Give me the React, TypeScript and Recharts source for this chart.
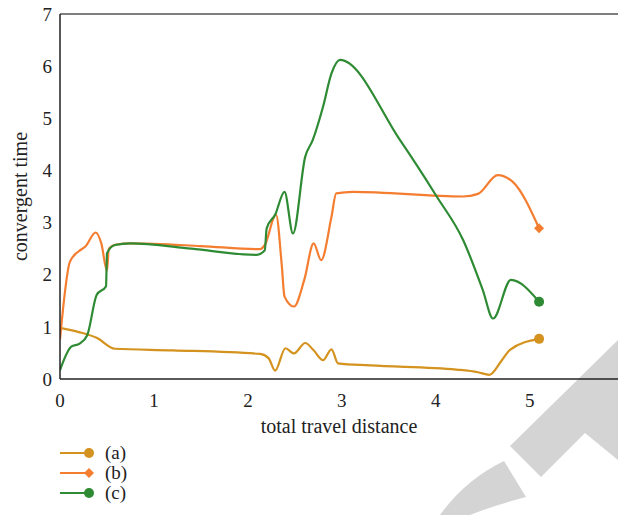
import React from "react";
import {
  LineChart,
  Line,
  XAxis,
  YAxis,
  ReferenceLine,
} from "recharts";

const seriesNames = ["(a)", "(b)", "(c)"];
const colors = ["#D4921E", "#F47D30", "#2E8B34"];

const xA = [0, 0.2, 0.39, 0.585, 1.2, 2.13, 2.22, 2.29, 2.4, 2.49, 2.61, 2.7, 2.8, 2.89, 2.96, 3.3, 4.22, 4.45, 4.57, 4.7, 4.79, 5.1];
const yA = [0.98, 0.9, 0.79, 0.58, 0.55, 0.48, 0.4, 0.16, 0.59, 0.49, 0.69, 0.55, 0.36, 0.57, 0.3, 0.26, 0.18, 0.13, 0.08, 0.35, 0.56, 0.77];

const xB = [0, 0.106, 0.2, 0.27, 0.38, 0.44, 0.5, 0.52, 0.6, 0.75, 1.5, 2.13, 2.18, 2.3, 2.36, 2.39, 2.49, 2.6, 2.7, 2.78, 2.89, 2.94, 3.12, 4.29, 4.45, 4.66, 4.82, 5.1];
const yB = [0.76, 2.25, 2.45, 2.54, 2.81, 2.6, 2.08, 2.5, 2.58, 2.6, 2.55, 2.49, 2.57, 3.15, 2.2, 1.58, 1.39, 1.9, 2.6, 2.28, 3.11, 3.56, 3.59, 3.5, 3.55, 3.91, 3.78, 2.89];

const xC = [0, 0.12, 0.21, 0.29, 0.39, 0.49, 0.5, 0.585, 0.745, 1.4, 2.09, 2.18, 2.2, 2.29, 2.39, 2.48, 2.61, 2.69, 2.8, 2.89, 2.98, 3.62, 4.01, 4.29, 4.5, 4.61, 4.8, 5.1];
const yC = [0.17, 0.62, 0.68, 0.84, 1.61, 1.78, 2.41, 2.57, 2.6, 2.5, 2.38, 2.47, 2.89, 3.15, 3.59, 2.79, 4.26, 4.58, 5.22, 5.86, 6.12, 4.58, 3.5, 2.67, 1.71, 1.16, 1.9, 1.48];

const xTicks = [0, 1, 2, 3, 4, 5];
const yTicks = [0, 1, 2, 3, 4, 5, 6, 7];

const toPoints = (xs: number[], ys: number[]) => xs.map((x, i) => ({ x, y: ys[i] }));
const series = [toPoints(xA, yA), toPoints(xB, yB), toPoints(xC, yC)];
const markers = ["circle", "diamond", "circle"];

const font = "'Liberation Serif', 'DejaVu Serif', serif";

function Marker({ kind, cx, cy, color }: { kind: string; cx: number; cy: number; color: string }) {
  if (kind === "diamond") {
    const s = 5;
    return (
      <path
        d={`M${cx},${cy - s} L${cx + s},${cy} L${cx},${cy + s} L${cx - s},${cy} Z`}
        fill={color}
      />
    );
  }
  return <circle cx={cx} cy={cy} r={5} fill={color} />;
}

function endDot(idx: number) {
  const last = series[idx].length - 1;
  return (props: any) => {
    if (props.index !== last) return <g key={`d-${idx}-${props.index}`} />;
    return (
      <g key={`d-${idx}-${props.index}`}>
        <Marker kind={markers[idx]} cx={props.cx} cy={props.cy} color={colors[idx]} />
      </g>
    );
  };
}

export default function App() {
  return (
    <div style={{ position: "absolute", left: 0, top: 0, width: 618, height: 515, fontFamily: font, background: "#fff" }}>
      {/* watermark behind the chart */}
      <svg width={618} height={515} style={{ position: "absolute", left: 0, top: 0 }}>
        <path d="M618,340 L510,446 L541,477 L585,433 L618,460 Z" fill="#D4D4D4" />
        <path d="M504,461 L526,497 Q495,505 470,515 L440,515 Q465,480 504,461 Z" fill="#D4D4D4" />
      </svg>
      <div style={{ position: "absolute", left: 0, top: 0 }}>
        <LineChart width={618} height={515} margin={{ top: 14, right: 0, bottom: 76, left: 0 }}>
          <XAxis
            type="number"
            dataKey="x"
            domain={[0, 5.94]}
            ticks={xTicks}
            allowDataOverflow
            height={60}
            tickLine={false}
            tickMargin={9}
            axisLine={{ stroke: "#222", strokeWidth: 1.5 }}
            tick={{ fill: "#222", fontSize: 19, fontFamily: font }}
            label={{ value: "total travel distance", position: "insideBottom", offset: 6, fill: "#222", fontSize: 20, fontFamily: font }}
          />
          <YAxis
            type="number"
            dataKey="y"
            domain={[0, 7]}
            ticks={yTicks}
            width={60}
            tickLine={false}
            axisLine={{ stroke: "#222", strokeWidth: 1.5 }}
            tick={{ fill: "#222", fontSize: 19, fontFamily: font }}
            label={{
              value: "convergent time",
              angle: -90,
              position: "insideLeft",
              offset: 20,
              fill: "#222",
              fontSize: 20,
              fontFamily: font,
              style: { textAnchor: "middle" },
            }}
          />
          <ReferenceLine y={7} stroke="#555" strokeWidth={1.5} />
          {series.map((data, i) => (
            <Line
              key={seriesNames[i]}
              data={data}
              dataKey="y"
              type="monotone"
              stroke={colors[i]}
              strokeWidth={2.2}
              dot={endDot(i)}
              activeDot={false}
              isAnimationActive={false}
            />
          ))}
        </LineChart>
      </div>
      <svg width={200} height={70} style={{ position: "absolute", left: 0, top: 442 }}>
        {seriesNames.map((name, i) => {
          const cy = 11 + i * 20;
          return (
            <g key={name}>
              <line x1={60} x2={89} y1={cy} y2={cy} stroke={colors[i]} strokeWidth={2} />
              <Marker kind={markers[i]} cx={89} cy={cy} color={colors[i]} />
              <text x={105} y={cy + 6} fontSize={19} fontFamily={font} fill="#222">
                {name}
              </text>
            </g>
          );
        })}
      </svg>
    </div>
  );
}
